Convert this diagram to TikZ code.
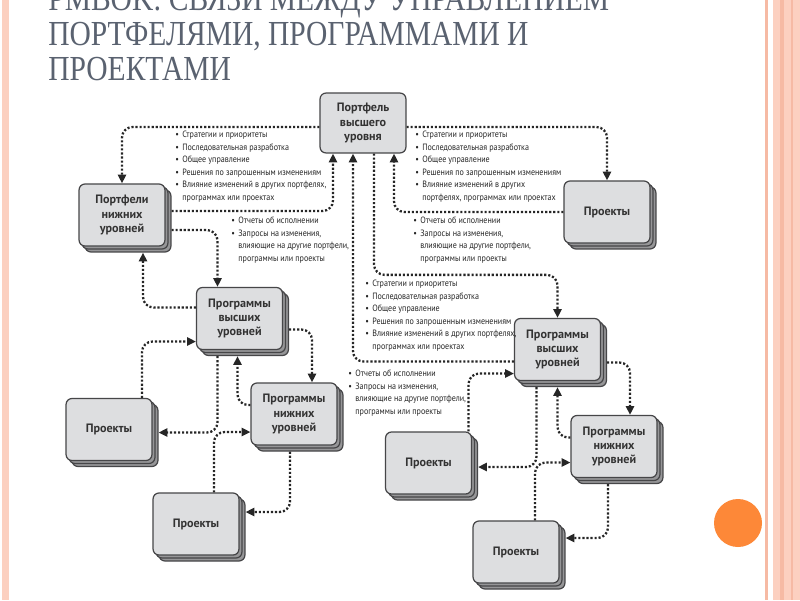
\documentclass[tikz,border=0pt]{standalone}
\usepackage{fontspec}
\setmainfont{PT Sans}
\newfontfamily\titlefont[FakeStretch=0.84]{Liberation Serif}
\newfontfamily\listfont[FakeStretch=0.88]{PT Sans}
\usepackage{tikz}
\usetikzlibrary{calc,arrows.meta,shadows}

\definecolor{titlegray}{RGB}{90,98,112}
\definecolor{boxfill}{RGB}{221,222,224}
\definecolor{stackfill}{RGB}{150,150,152}
\definecolor{edgegray}{RGB}{70,70,72}
\definecolor{pinkband}{RGB}{252,208,192}
\definecolor{pinkline}{RGB}{246,186,164}
\definecolor{orangedot}{RGB}{253,136,56}

\newcommand{\itm}{\makebox[4pt][l]{•}}
\newcommand{\cnt}{\hspace*{4pt}}

\begin{document}
\begin{tikzpicture}[x=0.02cm,y=-0.02cm,
  box/.style={draw=edgegray, line width=0.7pt, fill=boxfill, rounded corners=3.4pt,
    minimum width=48.9pt, minimum height=35.3pt, align=center, inner sep=1pt,
    font=\bfseries\fontsize{6.9}{8}\selectfont, text=black!80},
  stack/.style={box, double copy shadow={shadow xshift=1.7pt, shadow yshift=-1.7pt,
    fill=stackfill, draw=edgegray}},
  link/.style={draw=black!85, line width=1.3pt, dash pattern=on 1.2pt off 1.1pt,
    rounded corners=6pt, -{Triangle[length=5pt,width=4.6pt]}},
  note/.style={anchor=north west, align=left, inner sep=0pt,
    font=\listfont\fontsize{5.2}{7.1}\selectfont, text=black!85},
  title/.style={anchor=north west, align=left, inner sep=0pt,
    font=\titlefont\fontsize{20}{19.9}\selectfont, text=titlegray}]

\useasboundingbox (0,0) rectangle (800,600);
\clip (0,0) rectangle (800,600);
\fill[white] (0,0) rectangle (800,600);

\fill[pinkband] (2,0) rectangle (9,600);
\fill[pinkline] (765,0) rectangle (768,600);
\fill[pinkband] (773,0) rectangle (800,600);
\fill[pinkline] (780,0) rectangle (784,600);
\fill[pinkline] (791,0) rectangle (793,600);
\fill[orangedot] (738,523) circle (24);

\node[title] (ttl) at (48,-13) {PMBOK: СВЯЗИ МЕЖДУ УПРАВЛЕНИЕМ\\ПОРТФЕЛЯМИ, ПРОГРАММАМИ И\\ПРОЕКТАМИ};

\node[box, minimum height=34.1pt] (top) at (363,123) {Портфель\\высшего\\уровня};

\node[stack] (pn) at (122,215) {Портфели\\нижних\\уровней};

\node[stack] (prt) at (607,212) {Проекты};

\node[stack] (pvl) at (239.5,318.5) {Программы\\высших\\уровней};

\node[stack] (pnl) at (294,414) {Программы\\нижних\\уровней};

\node[stack] (prl) at (109,429.5) {Проекты};

\node[stack] (prll) at (196,524) {Проекты};

\node[stack] (pvr) at (557.5,349.5) {Программы\\высших\\уровней};

\node[stack] (prm) at (428.5,463) {Проекты};

\node[stack] (pnr) at (614,446.5) {Программы\\нижних\\уровней};

\node[stack] (prlr) at (516,552) {Проекты};


\node[note] (na) at (175,131) {\itm Стратегии и приоритеты\\\itm Последовательная разработка\\\itm Общее управление\\\itm Решения по запрошенным изменениям\\\itm Влияние изменений в других портфелях,\\\cnt программах или проектах};

\node[note] (nb) at (415,131) {\itm Стратегии и приоритеты\\\itm Последовательная разработка\\\itm Общее управление\\\itm Решения по запрошенным изменениям\\\itm Влияние изменений в других\\\cnt портфелях, программах или проектах};

\node[note] (nc) at (231,217) {\itm Отчеты об исполнении\\\itm Запросы на изменения,\\\cnt влияющие на другие портфели,\\\cnt программы или проекты};

\node[note] (nd) at (413,217) {\itm Отчеты об исполнении\\\itm Запросы на изменения,\\\cnt влияющие на другие портфели,\\\cnt программы или проекты};

\node[note] (ne) at (365,280) {\itm Стратегии и приоритеты\\\itm Последовательная разработка\\\itm Общее управление\\\itm Решения по запрошенным изменениям\\\itm Влияние изменений в других портфелях,\\\cnt программах или проектах};

\node[note] (nf) at (348,370) {\itm Отчеты об исполнении\\\itm Запросы на изменения,\\\cnt влияющие на другие портфели,\\\cnt программы или проекты};


\draw[link] ($(top.west)+(0,4)$) -| (pn.north);
\draw[link] ($(pn.east)+(6,-4)$) -| ($(top.south)+(-30,0)$);
\draw[link] ($(top.east)+(0,4)$) -| (prt.north);
\draw[link] (prt.west) -| ($(top.south)+(31,0)$);

\draw[link] ($(pn.east)+(6,15)$) -| ($(pvl.north)+(-22,0)$);
\draw[link] ($(pvl.west)+(0,-11)$) -| ($(pn.south)+(21,6)$);
\draw[link] ($(prl.north)+(33,0)$) |- ($(pvl.west)+(0,23)$);
\draw[link] ($(pvl.south)+(-22,6)$) |- ($(prl.east)+(6,3)$);
\draw[link] ($(pnl.west)+(0,-9)$) -| ($(pvl.south)+(-2,6)$);
\draw[link] ($(pvl.east)+(6,11)$) -| ($(pnl.north)+(18,0)$);
\draw[link] ($(prll.north)+(18,0)$) |- ($(pnl.west)+(0,18)$);
\draw[link] ($(pnl.south)+(-4,6)$) |- ($(prll.east)+(6,-12)$);

\draw[link] ($(top.south)+(11,0)$) |- ($(pvr.north)+(0,-43)$) -- (pvr.north);
\draw[link] ($(pvr.west)+(0,12)$) -| ($(top.south)+(-10,0)$);
\draw[link] ($(prm.north)+(40,0)$) |- ($(pvr.west)+(0,24)$);
\draw[link] ($(pvr.south)+(-21,6)$) |- ($(prm.east)+(6,4)$);
\draw[link] ($(pnr.west)+(0,-9)$) -| ($(pvr.south)+(0,6)$);
\draw[link] ($(pvr.east)+(6,13)$) -| ($(pnr.north)+(16,0)$);
\draw[link] ($(prlr.north)+(19,0)$) |- ($(pnr.west)+(0,16)$);
\draw[link] ($(pnr.south)+(-6,6)$) |- ($(prlr.east)+(6,-14)$);

\end{tikzpicture}
\end{document}
